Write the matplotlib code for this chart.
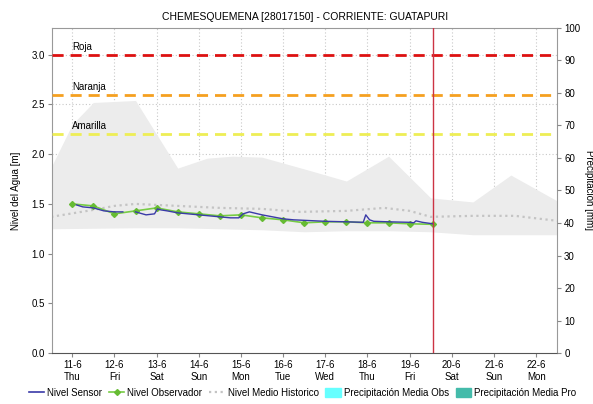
import numpy as np
import matplotlib
matplotlib.use("Agg")
import matplotlib.pyplot as plt
from matplotlib.lines import Line2D
from matplotlib.patches import Patch

plt.rcParams['font.family'] = ['Liberation Sans', 'DejaVu Sans']

# x values are days counted from 11-6 00:00
tick_days = list(range(12))
tick_dates = ["11-6", "12-6", "13-6", "14-6", "15-6", "16-6", "17-6", "18-6", "19-6", "20-6", "21-6", "22-6"]
tick_weekdays = ["Thu", "Fri", "Sat", "Sun", "Mon", "Tue", "Wed", "Thu", "Fri", "Sat", "Sun", "Mon"]

# historic envelope (max / min) and historic mean level [m]
hist_max_t = [-0.5, 0.0, 0.5, 1.5, 2.5, 3.2, 3.8, 4.5, 5.6, 6.5, 7.5, 8.5, 9.5, 10.4, 11.5]
hist_max = [1.87, 2.30, 2.52, 2.54, 1.86, 1.96, 1.98, 1.97, 1.84, 1.73, 1.98, 1.56, 1.52, 1.79, 1.53]
hist_min_t = [-0.5, 0.5, 1.5, 2.5, 3.5, 4.5, 5.5, 6.5, 7.5, 8.5, 9.5, 10.5, 11.5]
hist_min = [1.25, 1.255, 1.26, 1.26, 1.25, 1.24, 1.22, 1.23, 1.23, 1.22, 1.19, 1.19, 1.19]
hist_mean_t = [-0.5, 0.5, 1.0, 1.5, 2.5, 3.5, 4.5, 5.4, 6.5, 7.4, 8.0, 8.5, 9.5, 10.5, 11.5]
hist_mean = [1.37, 1.44, 1.48, 1.50, 1.48, 1.46, 1.45, 1.42, 1.43, 1.46, 1.43, 1.37, 1.38, 1.38, 1.33]

# sensor level [m] (nan = missing data)
sensor_t = [0.1, 0.25, 0.5, 0.75, 1.0, 1.2, 1.25, 1.5, 1.75, 1.95, 2.02, 2.1, 2.25, 2.5, 2.75, 3.0,
            3.25, 3.5, 3.75, 3.95, 4.05, 4.2, 4.5, 4.75, 5.0, 5.25, 5.5, 5.75, 6.0, 6.5, 6.9,
            6.96, 7.05, 7.15, 7.5, 8.0, 8.1, 8.15, 8.3, 8.55]
sensor = [1.49, 1.47, 1.46, 1.43, 1.42, 1.42, np.nan, 1.42, 1.39, 1.40, 1.45, 1.44, 1.43, 1.41, 1.40, 1.39,
          1.38, 1.37, 1.36, 1.36, 1.40, 1.42, 1.39, 1.37, 1.35, 1.34, 1.335, 1.33, 1.325, 1.32, 1.315,
          1.39, 1.34, 1.325, 1.32, 1.315, 1.31, 1.33, 1.315, 1.30]

# observer readings [m]
obs_t = [0.0, 0.5, 1.0, 1.5, 2.0, 2.5, 3.0, 3.5, 4.0, 4.5, 5.0, 5.5, 6.0, 6.5, 7.0, 7.5, 8.0, 8.55]
obs = [1.50, 1.48, 1.40, 1.43, 1.46, 1.42, 1.40, 1.38, 1.39, 1.36, 1.34, 1.31, 1.32, 1.32, 1.31, 1.31, 1.30, 1.295]

# alert thresholds [m]
alert_names = ["Roja", "Naranja", "Amarilla"]
alert_levels = [3.0, 2.6, 2.2]
alert_colors = ["#dd1111", "#f5a020", "#eeee55"]

now_t = 8.56

fig = plt.figure(figsize=(5.93, 4.04), dpi=100)
ax = fig.add_axes([0.0877, 0.126, 0.852, 0.805])

ax.fill_between(hist_max_t, hist_max, 0, color="#ececec", lw=0, zorder=1)
ax.fill_between(hist_min_t, hist_min, 0, color="white", lw=0, zorder=1)
ax.plot(hist_mean_t, hist_mean, color="#c4c4c4", lw=1.6, ls=(0, (1, 1.6)), zorder=2)

for name, lvl, col in zip(alert_names, alert_levels, alert_colors):
    ax.axhline(lvl, color=col, lw=2, ls=(0, (4, 2.5)), zorder=3)
    ax.text(0, lvl + 0.03, name, fontsize=7, color="black", ha="left", va="bottom", zorder=4)

ax.plot(obs_t, obs, color="#77cc44", lw=1.2, marker="D", ms=3, mfc="#66bb33", mec="#66bb33", zorder=4)
ax.plot(sensor_t, sensor, color="#3a3aa8", lw=1.0, zorder=5)

ax.axvline(now_t, color="#cc3344", lw=1, zorder=6)

ax.set_xlim(-0.48, 11.5)
ax.set_ylim(0, 3.27)
ax.set_xticks(tick_days)
ax.set_xticklabels([d + "\n" + w for d, w in zip(tick_dates, tick_weekdays)], fontsize=7)
ax.set_yticks(np.arange(0, 3.01, 0.5))
ax.set_yticklabels(["%.1f" % v for v in np.arange(0, 3.01, 0.5)], fontsize=7)
ax.grid(True, color="#c8c8c8", ls=(0, (1, 2)), lw=0.8)
ax.set_axisbelow(True)
ax.tick_params(length=3, color="#888888", pad=2)
for s in ["left", "right", "top"]:
    ax.spines[s].set_color("#999999")
ax.spines["bottom"].set_color("#555555")
ax.spines["bottom"].set_linestyle((0, (1, 1)))
ax.set_ylabel("Nivel del Agua [m]", fontsize=7, labelpad=8)
ax.set_title("CHEMESQUEMENA [28017150] - CORRIENTE: GUATAPURI", fontsize=7.5, pad=6)

ax2 = ax.twinx()
ax2.set_ylim(0, 100)
ax2.set_yticks(range(0, 101, 10))
ax2.tick_params(labelsize=7, length=3, color="#888888", pad=2)
ax2.set_ylabel("Precipitación [mm]", fontsize=7, rotation=270, labelpad=3, va="bottom")
for s in ax2.spines.values():
    s.set_visible(False)

handles = [
    Line2D([], [], color="#3a3aa8", lw=1.2),
    Line2D([], [], color="#77cc44", lw=1.2, marker="D", ms=3, mfc="#66bb33", mec="#66bb33"),
    Line2D([], [], color="#c4c4c4", lw=1.6, ls=(0, (1, 1.6))),
    Patch(color="#66ffff"),
    Patch(color="#44bbaa"),
]
labels = ["Nivel Sensor", "Nivel Observador", "Nivel Medio Historico",
          "Precipitación Media Obs", "Precipitación Media Pro"]
fig.legend(handles, labels, loc="center", bbox_to_anchor=(0.51, 0.027), ncol=5, frameon=False,
           fontsize=7, handlelength=1.6, handletextpad=0.3, columnspacing=0.7, handleheight=1.0)

fig.savefig("out.png", dpi=100)
